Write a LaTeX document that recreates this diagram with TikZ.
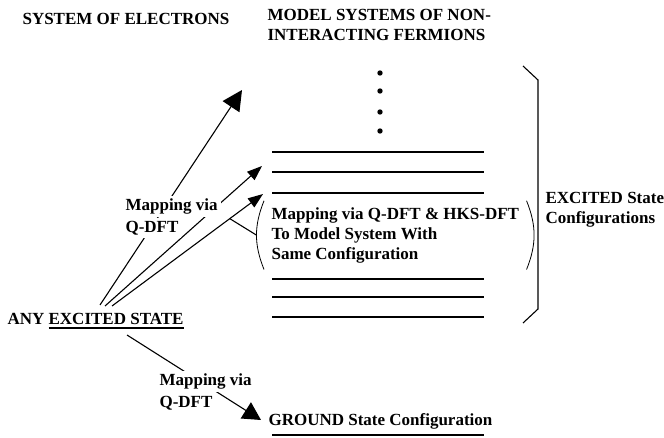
\documentclass[tikz,border=0pt]{standalone}
\usepackage{fontspec}
\setmainfont{Liberation Serif}
\usetikzlibrary{arrows.meta}
\newcommand{\thickul}[1]{\vtop{\hbox{#1}\kern2pt\hrule height 1.4pt}}
\begin{document}
\begin{tikzpicture}[x=1pt, y=-1pt, line width=1.1pt,
  font=\bfseries\fontsize{17}{20}\selectfont,
  txt/.style={inner sep=0pt, align=left},
  lbl/.style={inner sep=0pt, align=left},
  lvl/.style={line width=1.4pt},
  map/.style={-{Triangle[length=15pt, width=11pt]}}]
  \useasboundingbox (0,0) rectangle (664,438);
  \setlength{\fboxsep}{3pt}
  % headings
  \node[txt, anchor=base west] (elec) at (22,25) {SYSTEM OF ELECTRONS};
  \node[txt, anchor=north west] (model) at (267,8.8) {MODEL SYSTEMS OF NON-\\INTERACTING FERMIONS};
  % interacting system
  \node[txt, anchor=base west] (any) at (7,325) {ANY \thickul{EXCITED STATE}};
  % model systems: levels, dots, brace
  \foreach \y in {73,91,112,131} \fill (380,\y) circle (2.7);
  \foreach \y in {152,172,193,279,297,317} \draw[lvl] (272,\y) -- (484,\y);
  \draw (523,66) -- (538,80) -- (538,309) -- (523,323);
  \node[txt, anchor=north west] (exc) at (545,191.8) {EXCITED State\\Configurations};
  \node[txt, anchor=base west] (gnd) at (268,425) {GROUND State Configuration};
  \draw[lvl] (272,435) -- (484,435);
  % same configuration
  \node[txt, inner xsep=7pt, inner ysep=6pt, anchor=north west] (cfg) at (264,200.8)
      {Mapping via Q-DFT \& HKS-DFT\\To Model System With\\Same Configuration};
  \draw[line width=0.8pt] (cfg.north west) to[bend right=22] coordinate[pos=0.5] (lp) (cfg.south west);
  \draw[line width=0.8pt] (cfg.north east) to[bend left=22] (cfg.south east);
  % mappings
  \coordinate (s1) at (100,305);
  \coordinate (s2) at (105,306);
  \coordinate (s3) at (112,306);
  \coordinate (s4) at (127,335);
  \coordinate (t1) at (242,90);
  \coordinate (t2) at (262,166);
  \coordinate (t3) at (263,194);
  \coordinate (t4) at (261,420);
  \draw[-{Triangle[length=20pt, width=20pt]}] (s1) -- (t1);
  \draw[map] (s2) -- (t2);
  \draw[map] (s3) -- coordinate[pos=0.78] (a3) (t3);
  \draw (a3) -- (lp);
  \draw[-{Triangle[length=18pt, width=19pt]}] (s4) -- (t4);
  \node[lbl, anchor=north west] (m1) at (122,195)
      {\colorbox{white}{Mapping via}\\\colorbox{white}{Q-DFT}};
  \node[lbl, anchor=north west] (m2) at (156,370)
      {\colorbox{white}{Mapping via}\\\colorbox{white}{Q-DFT}};
\end{tikzpicture}
\end{document}
